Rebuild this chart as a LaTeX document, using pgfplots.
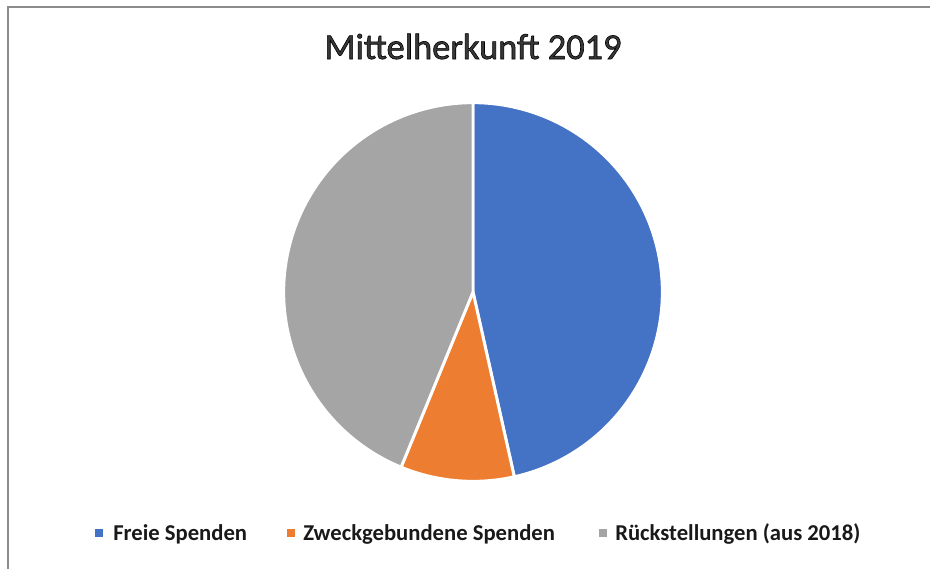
\documentclass[border=0pt]{standalone}
\usepackage{pgfplots}
\pgfplotsset{compat=1.18}
\usepackage{fontspec}
\setmainfont{Carlito}
\definecolor{pieblue}{HTML}{4472C4}
\definecolor{pieorange}{HTML}{ED7D31}
\definecolor{piegray}{HTML}{A5A5A5}
\definecolor{framegray}{HTML}{8C8C8C}

% Anteile in Prozent (im Uhrzeigersinn ab 12 Uhr)
\def\vFrei{46.5}
\def\vZweck{9.7}
\def\vRueck{43.8}

\newcommand\outlined[1]{\special{pdf:code q 2 Tr 0.45 w 0 0 0 RG}#1\special{pdf:code Q}}

\begin{document}
\begin{tikzpicture}
  \pgfmathsetmacro{\aA}{0}
  \pgfmathsetmacro{\aB}{\vFrei*3.6}
  \pgfmathsetmacro{\aC}{(\vFrei+\vZweck)*3.6}
  \pgfmathsetmacro{\aD}{(\vFrei+\vZweck+\vRueck)*3.6}

  \begin{axis}[
    at={(354.75pt,-219pt)}, anchor=origin,
    x=142pt, y=142pt,
    xmin=-1.05, xmax=1.05, ymin=-1.05, ymax=1.05,
    hide axis, clip=false,
    every axis plot/.append style={draw=white, line width=2.2pt, line join=round},
  ]
    \addplot[fill=pieblue, domain=\aA:\aB, samples=100]
      ({sin(x)},{cos(x)}) -- (axis cs:0,0) -- cycle;
    \addplot[fill=pieorange, domain=\aB:\aC, samples=40]
      ({sin(x)},{cos(x)}) -- (axis cs:0,0) -- cycle;
    \addplot[fill=piegray, domain=\aC:\aD, samples=100]
      ({sin(x)},{cos(x)}) -- (axis cs:0,0) -- cycle;
  \end{axis}

  \begin{scope}[x=0.75pt,y=-0.75pt]
    \useasboundingbox (0,0) rectangle (930,569);
    % Rahmen
    \draw[framegray, line width=1.5pt] (7.5,569) -- (7.5,6.5) -- (930,6.5);

    % Titel
    \node[font=\fontsize{27.3}{32}\selectfont, text=black!78, anchor=base] at (473,59) {\outlined{Mittelherkunft 2019}};

    % Legende
    \begin{scope}[every node/.style={font=\bfseries\fontsize{17}{20}\selectfont, anchor=base west, inner sep=0pt, text=black!90}]
      \fill[pieblue] (95,529) rectangle (103,537);
      \node at (113,540) {Freie Spenden};
      \fill[pieorange] (287,529) rectangle (295,537);
      \node at (303,540) {Zweckgebundene Spenden};
      \fill[piegray] (599,529) rectangle (607,537);
      \node at (615,540) {Rückstellungen (aus 2018)};
    \end{scope}
  \end{scope}
\end{tikzpicture}
\end{document}
